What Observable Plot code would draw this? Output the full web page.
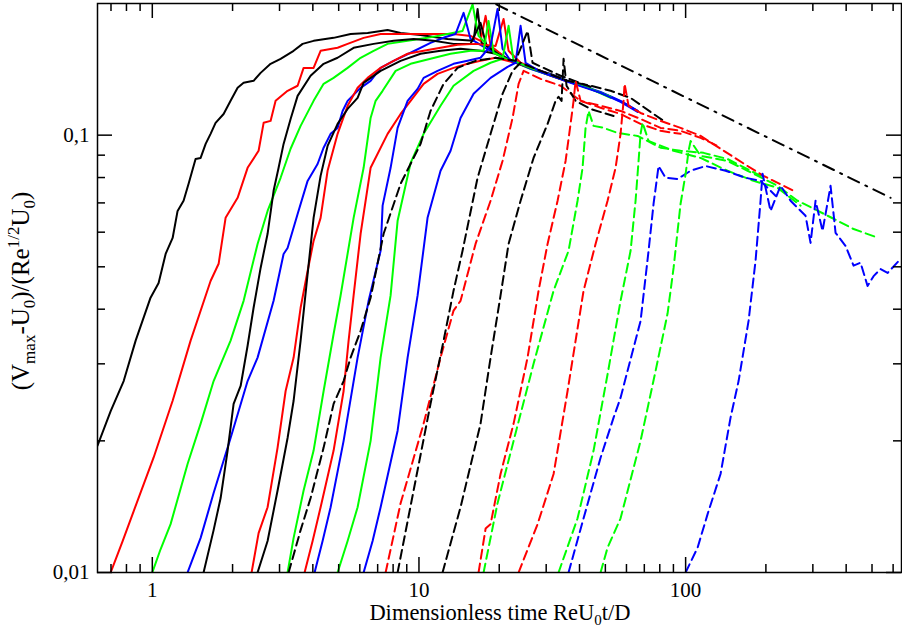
<!DOCTYPE html>
<html><head><meta charset="utf-8">
<script src="https://cdn.jsdelivr.net/npm/d3@7"></script>
<script src="https://cdn.jsdelivr.net/npm/@observablehq/plot@0.6"></script>
<style>body{margin:0;background:#fff}</style>
</head><body><div id="chart"></div>
<script>
// ---- tick values and labels ----
const xMajorTicks = [1, 10, 100];
const xTickLabels = ["1", "10", "100"];
const xMinorTicks = [0.7, 0.8, 0.9, 2, 3, 4, 5, 6, 7, 8, 9, 20, 30, 40, 50, 60, 70, 80, 90, 200, 300, 400, 500, 600];
const yMajorTicks = [0.01, 0.1];
const yTickLabels = ["0,01", "0,1"];
const yMinorTicks = [0.02, 0.03, 0.04, 0.05, 0.06, 0.07, 0.08, 0.09];

// ---- series: [ReU0t/D, (Vmax-U0)/(Re^1/2 U0)] ----
const solidBlackA = [[0.623,0.0195],[0.698,0.0234],[0.781,0.0274],[0.866,0.0339],[0.985,0.0425],[1.056,0.0459],[1.122,0.0535],[1.192,0.0582],[1.244,0.0671],[1.310,0.0708],[1.368,0.0774],[1.453,0.0882],[1.518,0.0887],[1.585,0.0955],[1.654,0.1007],[1.727,0.1067],[1.851,0.1118],[1.966,0.1198],[2.089,0.1283],[2.200,0.1317],[2.398,0.1331],[2.548,0.1388],[2.777,0.1456],[3.028,0.1495],[3.388,0.1559],[3.661,0.1617],[4.026,0.1643],[4.785,0.1669],[5.542,0.1704],[6.418,0.1713],[7.628,0.1740],[8.534,0.1713],[10.14,0.1695],[12.80,0.1660],[16.03,0.1643],[16.59,0.1944],[17.17,0.1626],[19.38,0.1559],[22.06,0.1479],[26.21,0.1425],[31.16,0.1381],[33.97,0.1352]];
const solidRedA = [[0.698,0.0100],[0.774,0.0118],[0.851,0.0138],[1.011,0.0183],[1.192,0.0247],[1.392,0.0339],[1.654,0.0464],[1.773,0.0508],[1.883,0.0647],[2.089,0.0719],[2.277,0.0842],[2.504,0.0921],[2.615,0.1067],[2.777,0.1078],[2.900,0.1198],[3.216,0.1263],[3.507,0.1297],[3.693,0.1425],[4.026,0.1425],[4.277,0.1559],[4.953,0.1584],[5.400,0.1617],[6.201,0.1669],[7.181,0.1704],[10.14,0.1704],[13.48,0.1704],[15.61,0.1686],[17.02,0.1643],[17.78,0.1874],[18.56,0.1600],[21.13,0.1503],[26.21,0.1425],[31.16,0.1367],[35.47,0.1331]];
const solidGreenA = [[1.000,0.0100],[1.074,0.0113],[1.171,0.0129],[1.356,0.0177],[1.518,0.0219],[1.698,0.0274],[1.966,0.0339],[2.200,0.0418],[2.482,0.0564],[2.706,0.0671],[3.028,0.0799],[3.301,0.0931],[3.599,0.1050],[4.026,0.1198],[4.390,0.1310],[4.785,0.1352],[5.400,0.1425],[6.042,0.1503],[6.760,0.1559],[7.628,0.1617],[9.066,0.1643],[10.77,0.1669],[12.80,0.1704],[14.57,0.1731],[15.89,0.1990],[16.73,0.1686],[18.56,0.1576],[21.13,0.1495],[26.21,0.1418],[33.97,0.1345],[44.01,0.1276],[52.31,0.1217]];
const solidBlueA = [[1.356,0.0100],[1.518,0.0120],[1.698,0.0152],[1.966,0.0203],[2.277,0.0274],[2.482,0.0310],[2.850,0.0418],[3.107,0.0535],[3.216,0.0552],[3.507,0.0660],[3.823,0.0786],[4.167,0.0859],[4.390,0.0936],[4.663,0.1007],[4.953,0.1039],[5.172,0.1136],[5.400,0.1198],[6.042,0.1283],[6.587,0.1331],[7.181,0.1425],[8.034,0.1479],[9.304,0.1543],[11.05,0.1626],[12.58,0.1677],[13.72,0.1704],[14.70,0.1904],[15.61,0.1660],[18.56,0.1559],[21.49,0.1495],[26.21,0.1418],[33.97,0.1345],[44.01,0.1276],[52.31,0.1224],[59.54,0.1179],[66.04,0.1136]];
const solidBlackB = [[1.557,0.0100],[1.698,0.0125],[1.804,0.0148],[1.916,0.0190],[2.018,0.0243],[2.144,0.0267],[2.277,0.0330],[2.398,0.0403],[2.548,0.0497],[2.706,0.0595],[2.850,0.0746],[2.976,0.0842],[3.107,0.0955],[3.301,0.1089],[3.507,0.1230],[3.923,0.1367],[4.390,0.1456],[4.953,0.1503],[5.688,0.1584],[6.760,0.1617],[8.034,0.1643],[9.549,0.1660],[11.35,0.1643],[13.48,0.1617],[15.61,0.1617],[17.02,0.1806],[17.93,0.1600],[20.23,0.1518],[24.05,0.1456],[29.84,0.1388],[33.97,0.1345]];
const solidRedB = [[2.357,0.0100],[2.504,0.0123],[2.706,0.0141],[2.950,0.0193],[3.162,0.0260],[3.388,0.0310],[3.599,0.0403],[3.823,0.0489],[4.026,0.0573],[4.277,0.0647],[4.543,0.0829],[4.953,0.1007],[5.400,0.1167],[5.887,0.1283],[6.418,0.1352],[7.181,0.1425],[8.034,0.1479],[9.066,0.1535],[10.41,0.1559],[12.05,0.1584],[13.96,0.1609],[16.30,0.1617],[19.38,0.1600],[20.76,0.1844],[21.68,0.1559],[24.05,0.1464],[29.84,0.1388],[35.47,0.1331]];
const solidBlackC = [[2.482,0.0100],[2.706,0.0118],[2.950,0.0154],[3.216,0.0203],[3.388,0.0247],[3.599,0.0339],[3.823,0.0481],[4.026,0.0647],[4.277,0.0807],[4.543,0.0945],[4.953,0.1061],[5.400,0.1148],[5.887,0.1217],[6.201,0.1317],[7.181,0.1403],[8.534,0.1479],[10.14,0.1535],[12.05,0.1559],[14.32,0.1576],[17.02,0.1559],[19.38,0.1535],[22.06,0.1479],[26.21,0.1425],[31.16,0.1374],[33.97,0.1345]];
const solidGreenB = [[3.216,0.0100],[3.388,0.0120],[3.693,0.0154],[4.026,0.0190],[4.390,0.0260],[4.785,0.0351],[5.083,0.0430],[5.688,0.0647],[6.201,0.0842],[6.587,0.1095],[6.878,0.1198],[7.306,0.1263],[8.174,0.1403],[9.304,0.1456],[11.05,0.1495],[13.14,0.1535],[15.61,0.1559],[17.47,0.1559],[18.24,0.1825],[19.05,0.1543],[22.06,0.1479],[27.37,0.1418],[33.97,0.1345],[44.01,0.1276],[52.31,0.1224]];
const solidRedC = [[3.725,0.0100],[3.992,0.0118],[4.277,0.0141],[4.785,0.0190],[5.217,0.0260],[5.447,0.0339],[5.688,0.0430],[6.042,0.0595],[6.587,0.0842],[7.628,0.1007],[8.534,0.1118],[9.304,0.1198],[10.41,0.1310],[11.74,0.1381],[13.48,0.1425],[15.21,0.1456],[17.02,0.1479],[19.38,0.1503],[23.03,0.1464],[28.58,0.1403],[35.47,0.1331]];
const solidBlueB = [[4.061,0.0100],[4.351,0.0118],[4.663,0.0141],[5.217,0.0200],[5.887,0.0310],[6.474,0.0418],[7.181,0.0544],[7.306,0.0690],[7.828,0.0842],[8.316,0.1039],[9.066,0.1198],[9.884,0.1276],[10.41,0.1352],[11.74,0.1403],[13.48,0.1456],[15.21,0.1479],[17.02,0.1503],[18.56,0.1600],[19.71,0.1944],[20.58,0.1576],[22.06,0.1479],[28.58,0.1403],[37.03,0.1324],[47.98,0.1256],[57.02,0.1198],[66.04,0.1136]];
const solidGreenC = [[4.953,0.0100],[5.400,0.0118],[5.887,0.0141],[6.587,0.0200],[7.181,0.0310],[7.828,0.0430],[8.316,0.0637],[9.304,0.0864],[10.41,0.1007],[12.05,0.1167],[13.48,0.1297],[16.03,0.1403],[18.56,0.1464],[20.58,0.1495],[21.68,0.1778],[22.64,0.1479],[26.21,0.1425],[33.97,0.1345],[44.01,0.1276],[52.31,0.1224]];
const solidBlueC = [[6.201,0.0100],[6.701,0.0118],[7.181,0.0141],[8.316,0.0211],[9.066,0.0310],[9.884,0.0430],[10.77,0.0647],[12.05,0.0829],[13.14,0.0921],[14.32,0.1095],[16.03,0.1243],[18.56,0.1352],[21.49,0.1433],[23.03,0.1464],[24.05,0.1778],[25.11,0.1464],[28.58,0.1396],[37.03,0.1317],[47.98,0.1249],[57.02,0.1192],[66.04,0.1130]];

const dashedBlackA = [[3.245,0.0100],[3.599,0.0125],[3.923,0.0148],[4.390,0.0193],[4.785,0.0243],[5.217,0.0274],[5.542,0.0310],[6.042,0.0357],[6.587,0.0425],[7.370,0.0595],[8.534,0.0774],[10.14,0.0955],[11.05,0.1136],[12.37,0.1310],[13.96,0.1425],[16.30,0.1479],[19.38,0.1503],[23.03,0.1479],[25.54,0.1731],[26.67,0.1464],[33.97,0.1367],[44.01,0.1290]];
const dashedRedA = [[7.498,0.0100],[8.534,0.0144],[10.41,0.0219],[12.05,0.0310],[13.48,0.0397],[14.32,0.0418],[16.30,0.0564],[18.56,0.0708],[20.58,0.0873],[22.44,0.1095],[23.64,0.1310],[24.68,0.1403],[28.58,0.1345],[33.97,0.1297],[40.37,0.1198],[47.98,0.1155],[57.02,0.1118],[67.77,0.1061],[80.55,0.1023],[95.73,0.1007]];
const dashedBlackB = [[8.316,0.0100],[9.549,0.0154],[11.05,0.0243],[12.37,0.0339],[13.48,0.0441],[14.57,0.0544],[16.59,0.0799],[18.56,0.1007],[20.58,0.1243],[22.44,0.1403],[24.05,0.1464],[28.58,0.1403],[36.08,0.1331],[44.01,0.1297],[52.31,0.1263],[62.17,0.1217],[73.88,0.1130],[82.67,0.1078]];
const dashedBlackC = [[12.26,0.0100],[14.32,0.0141],[17.02,0.0219],[18.56,0.0310],[20.23,0.0430],[21.68,0.0564],[24.05,0.0708],[26.90,0.0887],[30.36,0.1061],[32.53,0.1198],[33.38,0.1224],[34.26,0.1198],[34.86,0.1495],[35.77,0.1297],[38.67,0.1198],[44.01,0.1148],[53.68,0.1106]];
const dashedRedB = [[16.73,0.0100],[17.78,0.0126],[18.56,0.0129],[20.23,0.0168],[22.64,0.0219],[25.54,0.0310],[28.09,0.0441],[30.36,0.0564],[33.10,0.0708],[35.47,0.0873],[37.03,0.1061],[38.00,0.1198],[38.67,0.1331],[40.37,0.1198],[47.98,0.1167],[57.02,0.1136],[67.77,0.1089],[80.55,0.1039],[95.73,0.1023],[113.8,0.0986],[131.8,0.0945]];
const dashedGreenA = [[17.47,0.0100],[19.71,0.0144],[22.64,0.0200],[26.90,0.0300],[31.98,0.0441],[36.39,0.0544],[39.33,0.0708],[41.07,0.0842],[42.15,0.1039],[43.26,0.1136],[45.17,0.1050],[49.24,0.1039],[55.56,0.1012],[66.04,0.0996],[80.55,0.0936],[95.73,0.0921],[116.8,0.0911],[143.6,0.0882],[191.0,0.0807]];
const dashedRedC = [[23.64,0.0100],[27.85,0.0129],[31.98,0.0168],[36.08,0.0260],[41.43,0.0441],[45.95,0.0564],[50.97,0.0708],[54.62,0.0842],[57.02,0.1007],[58.52,0.1198],[59.03,0.1310],[61.10,0.1167],[67.77,0.1124],[80.55,0.1078],[95.73,0.1039],[113.8,0.0996],[135.2,0.0931],[170.7,0.0850],[196.0,0.0807],[254.0,0.0746]];
const dashedGreenB = [[33.38,0.0100],[39.33,0.0133],[45.17,0.0190],[50.97,0.0284],[57.02,0.0418],[62.17,0.0544],[64.91,0.0708],[66.61,0.0873],[67.77,0.1007],[68.95,0.1067],[72.62,0.0970],[90.12,0.0921],[113.8,0.0887],[143.6,0.0829],[179.8,0.0786],[221.2,0.0758],[269.8,0.0690]];
const dashedBlueA = [[36.39,0.0100],[41.43,0.0133],[47.98,0.0183],[53.68,0.0226],[57.02,0.0251],[67.77,0.0376],[72.62,0.0544],[75.83,0.0697],[79.17,0.0850],[84.10,0.0799],[93.28,0.0794],[104.4,0.0829],[118.8,0.0850],[141.2,0.0829],[167.8,0.0799],[191.0,0.0786],[217.4,0.0727]];
const dashedGreenC = [[47.98,0.0100],[50.97,0.0114],[57.02,0.0133],[67.77,0.0200],[77.15,0.0289],[85.56,0.0391],[90.12,0.0497],[95.73,0.0697],[100.0,0.0816],[102.6,0.0921],[104.4,0.0970],[113.8,0.0897],[143.6,0.0873],[170.7,0.0829],[221.2,0.0766],[262.9,0.0708],[301.9,0.0679],[358.8,0.0644],[426.4,0.0610],[529.1,0.0582]];
const dashedBlueB = [[100.0,0.0100],[110.9,0.0114],[120.9,0.0136],[135.2,0.0168],[147.4,0.0226],[158.0,0.0274],[172.2,0.0376],[182.9,0.0516],[191.0,0.0708],[194.3,0.0816],[208.2,0.0671],[227.0,0.0766],[247.5,0.0708],[281.7,0.0654],[294.1,0.0567],[307.1,0.0708],[326.2,0.0604],[349.6,0.0766],[365.0,0.0598],[398.0,0.0558],[426.4,0.0503],[452.9,0.0511],[481.1,0.0452],[506.8,0.0476],[538.3,0.0494],[571.9,0.0484],[639.8,0.0521]];
const powerLaw = [[19.5,0.199],[586.9,0.0719]];

// ---- layout ----
const W = 902, H = 633, mL = 97, mR = 1, mT = 3, mB = 61;
const plotW = W - mL - mR, plotH = H - mT - mB;
const font = "Liberation Serif, 'Times New Roman', serif";
const DASH = "9,5";

const series = [
  [solidBlackA, "#000000", null], [solidRedA, "#ff0000", null], [solidGreenA, "#00ff00", null], [solidBlueA, "#0000ff", null],
  [solidBlackB, "#000000", null], [solidRedB, "#ff0000", null], [solidBlackC, "#000000", null], [solidGreenB, "#00ff00", null],
  [solidRedC, "#ff0000", null], [solidBlueB, "#0000ff", null], [solidGreenC, "#00ff00", null], [solidBlueC, "#0000ff", null],
  [dashedBlackA, "#000000", DASH], [dashedRedA, "#ff0000", DASH], [dashedBlackB, "#000000", DASH], [dashedBlackC, "#000000", DASH],
  [dashedRedB, "#ff0000", DASH], [dashedGreenA, "#00ff00", DASH], [dashedRedC, "#ff0000", DASH], [dashedGreenB, "#00ff00", DASH],
  [dashedBlueA, "#0000ff", DASH], [dashedGreenC, "#00ff00", DASH], [dashedBlueB, "#0000ff", DASH]
];

const marks = [];
for (const [data, color, dash] of series) {
  const opts = {x: d => d[0], y: d => d[1], stroke: color, strokeWidth: 2, clip: true, curve: "linear"};
  if (dash) opts.strokeDasharray = dash;
  marks.push(Plot.line(data, opts));
}
marks.push(Plot.line(powerLaw, {x: d => d[0], y: d => d[1], stroke: "#000", strokeWidth: 2, strokeDasharray: "12,7,2,7", clip: true}));

const tk = {stroke: "#000", strokeWidth: 1.5};
const MAJ = 15, MIN = 8;
marks.push(
  Plot.tickX(xMajorTicks, {x: d => d, insetTop: plotH - MAJ, ...tk}),
  Plot.tickX(xMinorTicks, {x: d => d, insetTop: plotH - MIN, ...tk}),
  Plot.tickX(xMajorTicks, {x: d => d, insetBottom: plotH - MAJ, ...tk}),
  Plot.tickX(xMinorTicks, {x: d => d, insetBottom: plotH - MIN, ...tk}),
  Plot.tickY(yMajorTicks, {y: d => d, insetRight: plotW - MAJ, ...tk}),
  Plot.tickY(yMinorTicks, {y: d => d, insetRight: plotW - MIN, ...tk}),
  Plot.tickY(yMajorTicks, {y: d => d, insetLeft: plotW - MAJ, ...tk}),
  Plot.tickY(yMinorTicks, {y: d => d, insetLeft: plotW - MIN, ...tk}),
  Plot.frame({stroke: "#000", strokeWidth: 1.5}),
  Plot.text(xMajorTicks, {x: d => d, text: (d, i) => xTickLabels[i], frameAnchor: "bottom", dy: 18, lineAnchor: "middle", fontSize: 21, fontFamily: font, fill: "#000"}),
  Plot.text(yMajorTicks, {y: d => d, text: (d, i) => yTickLabels[i], frameAnchor: "left", dx: -8, textAnchor: "end", lineAnchor: "middle", fontSize: 21, fontFamily: font, fill: "#000"})
);

const chart = Plot.plot({
  width: W, height: H,
  marginLeft: mL, marginRight: mR, marginTop: mT, marginBottom: mB,
  x: {type: "log", domain: [0.623, 645], axis: null},
  y: {type: "log", domain: [0.01, 0.2], axis: null},
  style: {background: "#fff", fontFamily: font},
  marks
});
document.getElementById("chart").appendChild(chart);

// ---- axis titles with sub/superscripts ----
const svg = d3.select(chart);
const xt = svg.append("text").attr("x", 500).attr("y", 620).attr("text-anchor", "middle")
  .attr("font-family", font).attr("font-size", 22.5).attr("fill", "#000");
xt.append("tspan").text("Dimensionless time ReU");
xt.append("tspan").attr("font-size", 15).attr("dy", 5).text("0");
xt.append("tspan").attr("dy", -5).text("t/D");

const yt = svg.append("text").attr("transform", "translate(29,291) rotate(-90)").attr("text-anchor", "middle")
  .attr("font-family", font).attr("font-size", 25).attr("fill", "#000");
const parts = [["(V", 0], ["max", 1], ["-U", 0], ["0", 1], [")/(Re", 0], ["1/2", -1], ["U", 0], ["0", 1], [")", 0]];
let prev = 0;
for (const [str, kind] of parts) {
  const shift = kind === 1 ? 6 : kind === -1 ? -10 : 0;
  const ts = yt.append("tspan").attr("dy", shift - prev).text(str);
  if (kind !== 0) ts.attr("font-size", 17);
  prev = shift;
}
</script>
</body></html>
